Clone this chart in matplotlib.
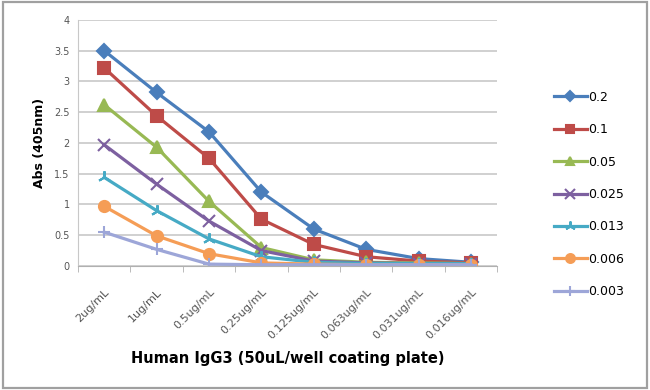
import matplotlib
matplotlib.use('Agg')
import matplotlib.pyplot as plt
from matplotlib.patches import Rectangle

# concentrations of coating antigen (x axis)
categories = ['2ug/mL', '1ug/mL', '0.5ug/mL', '0.25ug/mL', '0.125ug/mL',
              '0.063ug/mL', '0.031ug/mL', '0.016ug/mL']

# detection antibody dilutions (series)
series_names = ['0.2', '0.1', '0.05', '0.025', '0.013', '0.006', '0.003']

s_02 = [3.50, 2.82, 2.18, 1.20, 0.60, 0.27, 0.12, 0.06]
s_01 = [3.22, 2.44, 1.75, 0.76, 0.35, 0.15, 0.08, 0.05]
s_005 = [2.62, 1.93, 1.05, 0.30, 0.10, 0.06, 0.05, 0.04]
s_0025 = [1.97, 1.33, 0.73, 0.25, 0.08, 0.05, 0.04, 0.04]
s_0013 = [1.44, 0.90, 0.44, 0.15, 0.06, 0.04, 0.04, 0.04]
s_0006 = [0.97, 0.49, 0.20, 0.05, 0.03, 0.02, 0.02, 0.02]
s_0003 = [0.55, 0.27, 0.03, 0.02, 0.02, 0.02, 0.02, 0.02]

values = [s_02, s_01, s_005, s_0025, s_0013, s_0006, s_0003]
colors = ['#4A7EBB', '#BE4B48', '#98B954', '#7D60A0', '#46AAC5', '#F59D56', '#9DA6D8']
markers = ['D', 's', '^', 'x', (3, 2, 0), 'o', '+']
msizes = [7, 8, 8, 9, 9, 8, 9]

fig = plt.figure(figsize=(6.5, 3.9), dpi=100)
ax = fig.add_axes([0.12, 0.318, 0.645, 0.631])

x = list(range(len(categories)))
for vals, name, c, m, ms in zip(values, series_names, colors, markers, msizes):
    ax.plot(x, vals, color=c, marker=m, markersize=ms, linewidth=2.3,
            markeredgewidth=1.5, label=name)

ax.set_xlim(-0.5, len(categories) - 0.5)
ax.set_ylim(0, 4)
ax.set_yticks([0, 0.5, 1, 1.5, 2, 2.5, 3, 3.5, 4])
ax.set_yticklabels(['0', '0.5', '1', '1.5', '2', '2.5', '3', '3.5', '4'],
                   fontsize=7, color='#555555')
ax.set_xticks(x)
ax.set_xticklabels(categories, rotation=45, ha='right', rotation_mode='anchor',
                   fontsize=8, color='#555555')
ax.tick_params(axis='x', length=0, pad=15)
ax.tick_params(axis='y', length=0, pad=6)

# Excel-style tick marks between categories
ax.set_xticks([i - 0.5 for i in range(len(categories) + 1)], minor=True)
ax.tick_params(axis='x', which='minor', length=4, color='#b0b0b0')

ax.grid(axis='y', color='#c8c8c8', linewidth=1.2)
ax.set_axisbelow(True)
for side in ['top', 'right']:
    ax.spines[side].set_visible(False)
ax.spines['left'].set_color('#c8c8c8')
ax.spines['bottom'].set_color('#b0b0b0')

ax.set_ylabel('Abs (405nm)', fontsize=9, fontweight='bold', labelpad=6)
ax.set_xlabel('Human IgG3 (50uL/well coating plate)', fontsize=10.5,
              fontweight='bold', labelpad=7)

fig.legend(loc='upper left', bbox_to_anchor=(0.835, 0.796), frameon=False,
           fontsize=9, labelspacing=1.55, handlelength=2.6, handletextpad=0.1,
           markerscale=0.8)

# grey frame around the picture
fig.patches.append(Rectangle((0.004, 0.006), 0.991, 0.988, transform=fig.transFigure,
                             fill=False, edgecolor='#a0a0a0', linewidth=1.6))

plt.savefig('out.png', dpi=100)
plt.close()
